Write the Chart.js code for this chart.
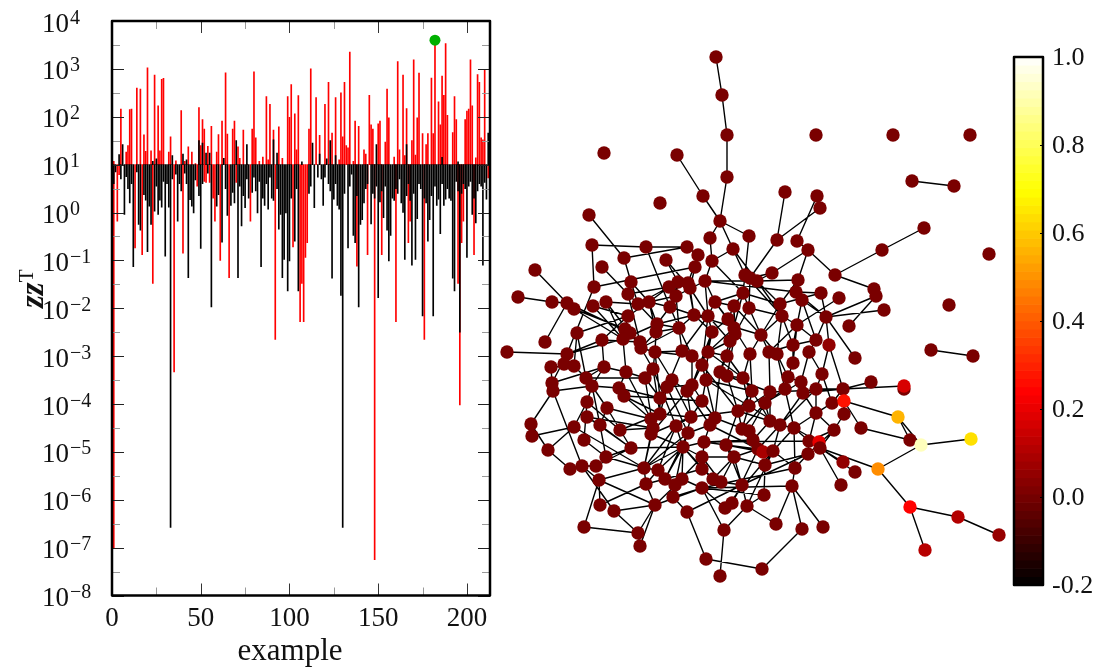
<!DOCTYPE html>
<html><head><meta charset="utf-8">
<script src="https://cdn.jsdelivr.net/npm/chart.js@4/dist/chart.umd.min.js"></script>
<style>
html,body{margin:0;padding:0;background:#fff;width:1096px;height:667px;overflow:hidden}
canvas{position:absolute;top:0}
</style></head><body>
<canvas id="bars" style="left:0" width="500" height="667"></canvas>
<canvas id="net" style="left:495px" width="515" height="667"></canvas>
<canvas id="cbar" style="left:1000px" width="96" height="667"></canvas>
<script>
// ---- left panel: [example, log10(zz^T)]
const redBars=[[0,3.53],[1,1.07],[5,2.16],[8,1.26],[9,1.4],[10,2.15],[11,2.16],[14,2.6],[16,2.58],[18,1.62],[19,1.28],[20,3.02],[22,1.29],[24,2.87],[26,2.23],[27,1.29],[28,2.78],[29,2.8],[32,1.26],[33,1.58],[36,1.08],[39,2.13],[41,1.07],[43,1.37],[45,1.26],[47,1.02],[49,2.19],[50,1.4],[51,1.94],[52,1.74],[54,1.38],[56,1.8],[59,1.26],[60,1.63],[62,1.91],[64,2.92],[65,1.64],[68,1.74],[69,1.91],[71,1.37],[72,1.13],[74,1.72],[76,1.01],[79,1.74],[80,2.94],[81,1.56],[83,1.07],[85,1.16],[87,2.42],[88,1.1],[89,2.26],[91,1.72],[94,1.79],[96,1.13],[99,2.42],[100,1.99],[101,2.67],[103,2.06],[104,1.31],[105,2.44],
[111,1.74],[112,3.0],[115,2.4],[117,1.61],[120,2.26],[122,2.72],[124,1.66],[126,2.4],[128,1.1],[129,2.5],[130,1.58],[131,2.72],[132,1.4],[133,1.35],[134,3.35],[136,1.07],[137,1.91],[139,1.8],[142,1.31],[143,1.22],[145,2.45],[146,1.83],[147,1.74],[150,1.85],[151,1.91],[154,1.47],[155,2.58],[156,1.98],[159,1.16],[161,3.15],[162,1.31],[164,2.87],[165,1.19],[166,2.17],[169,1.5],[170,3.19],[171,1.2],[172,1.98],[173,2.91],[175,1.65],[177,1.42],[178,1.65],[180,2.81],[181,1.65],[182,3.53],[184,2.31],[185,1.83],[186,2.85],[187,2.45],[188,3.53],[189,2.03],[192,1.67],[193,2.42],[194,1.94],[199,1.94],[200,2.12],[201,2.16],[202,3.19],[203,2.23],[205,1.14],[206,2.88],[207,2.72],[208,1.56],[209,1.52],[210,2.98],
[1,-7],[3,-0.18],[4,0.79],[13,-0.74],[17,-0.88],[23,-1.48],[35,-3.33],[40,-0.85],[48,0.55],[52,0.65],[53,0.63],[55,0.63],[57,0.3],[58,-0.18],[61,-1],[66,-1.36],[70,0.63],[78,-0.18],[92,-2.65],[102,-0.72],[106,-2.28],[107,-1.48],[108,-2.28],[109,-0.94],[110,-0.63],[138,-1.12],[144,-0.88],[148,-7.25],[152,-0.88],[160,-2.28],[167,-0.63],[168,-0.18],[176,-2.65],[195,-1.48],[196,-4.02],[197,-0.63],[198,-0.18],[204,-0.88],[212,0.72]];
const blackBars=[[4,1.21],[6,1.42],[23,1.07],[25,1.12],[34,1.19],[40,1.22],[42,1.1],[49,1.5],[51,1.45],[53,1.24],[55,1.24],[63,1.13],[70,1.5],[76,1.42],[91,1.52],[93,1.24],[107,1.06],[113,1.45],[117,1.22],[121,1.12],[123,1.5],[126,1.19],[149,1.42],[166,1.42],[186,1.15],[195,1.06],[212,1.66],
[1,0.6],[2,0.85],[7,-0.04],[10,0.2],[12,-1.13],[14,0.85],[15,-0.25],[16,-0.37],[18,0.37],[19,0.26],[20,-0.82],[21,0.13],[22,-0.25],[24,0.03],[26,-0.04],[27,0.26],[28,0.11],[30,-0.91],[31,0.6],[32,0.11],[33,-6.58],[36,0.8],[37,-0.18],[38,0.6],[41,0.82],[43,-1.36],[44,0.27],[45,0.13],[46,-0.01],[47,0.68],[50,-0.75],[54,0.82],[56,-1.97],[59,0.13],[60,0.37],[62,-0.62],[65,-0.06],[67,0.15],[68,0.42],[69,0.2],[71,-1.36],[73,-0.28],[75,0.1],[77,0.3],[79,0.42],[80,0.74],[82,-0.01],[84,-1.13],[85,0.3],[86,0.15],[87,0.6],[88,0.07],[89,0.74],[90,0.3],[94,-0.35],[95,-0.04],[96,-1.36],[97,-0.98],[98,-0.01],[99,-1.64],[100,-1.01],[101,0.3],[103,-0.6],[104,0.5],[105,-1.64],[111,0.4],[114,0.1],[116,0.74],[119,0.15],[120,0.74],[122,0.6],[124,-1.37],[125,0.28],[127,0.15],[128,0.07],[129,-1.73],[130,-6.58],[131,0.4],[133,-0.74],[135,0.8],[136,-0.48],[137,-0.63],[139,-1.97],[140,-0.25],[141,-0.15],[146,-0.24],[147,0.4],[150,-1.78],[151,0.22],[153,-0.11],[154,0.55],[155,-0.37],[156,-1.01],[157,-0.48],[158,0.3],[164,0],[165,-0.98],[169,-1.1],[171,-0.98],[172,-0.13],[173,0.6],[175,-2.16],[177,0.2],[178,-0.6],[179,-0.15],[181,-2.16],[183,0.15],[184,0.28],[185,-0.44],[188,0.28],[190,0.3],[191,0.25],[192,-1.37],[193,-1.64],[196,-2.5],[200,-0.94],[202,0.65],[203,-0.04],[205,-0.22],[207,0.6],[209,-1.1],[210,0.63],[211,0.28],
[5,0.7],[8,0.75],[9,0.5],[11,0.6],[25,0.55],[29,0.65],[34,0.7],[39,0.45],[42,0.6],[49,0.35],[51,0.6],[64,0.5],[72,0.55],[74,0.35],[76,0.7],[81,0.45],[83,0.65],[91,0.25],[93,0.5],[112,0.55],[118,0.7],[123,0.45],[126,0.6],[134,0.55],[138,0.35],[142,0.2],[143,0.5],[144,0.6],[148,0.3],[149,0.55],[152,0.45],[159,0.25],[160,0.5],[161,0.4],[162,0.7],[163,0.2],[166,0.35],[167,0.6],[168,0.25],[170,0.4],[174,0.5],[176,0.3],[180,0.35],[182,0.55],[186,0.6],[187,0.15],[189,0.5],[194,0.65],[195,0.45],[197,0.4],[198,0.6],[199,0.5],[201,0.55],[204,0.3],[206,0.45],[208,0.55]];
const greenPoint=[182,3980];
const barBaseline=10;
const yTickExponents=[4,3,2,1,0,-1,-2,-3,-4,-5,-6,-7,-8];
const xMajorTicks=[0,50,100,150,200];
const xMinorTicks=[25,75,125,175];
// ---- right panel: node layout, node colour values, edges
const nodeX=[716,722,727,816,893,970,604,677,727,912,
954,785,817,703,660,820,589,924,720,749,
710,777,797,592,646,687,733,808,882,989,
624,666,698,712,602,695,535,772,835,745,
750,757,631,678,688,705,798,594,669,690,
874,876,628,676,796,821,743,518,839,802,
552,567,606,649,638,715,949,574,593,670,
780,734,749,884,694,628,708,782,826,728,
657,797,849,625,679,734,656,577,630,712,
735,761,623,602,545,640,730,816,641,829,
793,931,507,655,682,708,769,777,809,973,
567,692,727,750,855,564,574,551,604,653,
702,793,626,720,822,727,586,645,672,743,
788,706,801,871,552,553,592,619,667,692,
687,752,770,785,803,816,843,904,904,624,
660,587,832,844,749,765,702,607,738,816,
844,898,660,651,691,587,715,770,531,574,
600,676,653,710,780,794,834,861,742,749,
620,532,651,688,584,704,726,753,809,819,
910,921,971,683,631,548,758,763,773,820,
808,606,702,734,843,644,658,582,596,570,
702,765,795,878,855,682,665,675,599,646,
702,713,721,742,792,841,764,673,655,600,
732,725,747,614,687,910,958,776,802,823,
584,724,638,999,640,925,706,762,720];
const nodeY=[57,95,135,135,135,135,153,155,177,181,
186,192,196,196,203,208,215,228,221,236,
238,240,241,245,247,247,249,250,250,254,
258,260,255,261,267,267,270,273,275,275,
278,281,282,282,283,281,280,287,287,288,
289,296,294,296,292,293,293,297,298,300,
302,303,302,302,304,302,305,309,306,307,
304,306,308,310,315,316,316,316,317,319,
324,325,326,329,328,328,332,333,333,332,
334,335,339,340,342,342,341,340,348,345,
345,350,352,352,351,352,352,354,352,356,
354,356,356,354,358,364,366,367,367,369,
365,363,372,372,374,376,378,378,380,378,
377,380,382,382,383,391,386,388,387,385,
391,391,392,389,393,389,389,389,386,396,
398,402,403,401,406,403,401,408,411,413,
414,417,414,419,417,417,418,421,424,427,
425,426,428,425,425,428,430,428,429,431,
430,436,434,433,440,442,445,440,441,442,
440,445,439,447,448,450,449,452,451,448,
454,457,457,457,462,468,470,466,466,469,
469,465,468,469,472,479,479,485,480,484,
488,479,482,485,486,485,495,497,505,505,
503,508,506,511,512,507,517,524,529,527,
527,530,533,535,546,550,559,569,576];
const baseNodeValue=0.01;
const brightNodes={99:0.05,148:0.17,153:0.27,161:0.56,189:0.2,191:0.92,192:0.64,197:0.09,204:0.05,213:0.49,235:0.24,236:0.107,243:0.058,245:0.115};
const edges=[[0,1],[1,2],[2,8],[8,18],[7,13],[13,18],[18,19],[18,20],[18,26],[18,39],[20,33],[26,33],[26,41],[19,39],[11,21],[15,21],[12,22],[21,40],[22,27],[27,46],[27,38],[27,37],[28,38],[28,17],[38,50],[51,82],[73,78],[58,81],[51,78],[55,78],[78,114],[78,99],[97,78],[100,97],[33,56],[33,45],[37,40],
[16,30],[23,24],[24,25],[30,25],[23,47],[30,42],[24,69],[31,49],[34,52],[47,35],[36,61],[57,60],[60,61],[47,110],[61,94],[102,110],[67,92],[67,83],[61,88],[68,92],[62,64],[64,63],[62,88],[87,75],[87,116],[87,126],[110,93],[110,92],[93,75],[68,75],
[135,168],[135,207],[135,136],[181,169],[168,195],[195,169],[195,209],[209,207],[207,208],[169,151],[169,205],[170,201],[151,184],[165,170],[208,194],[194,193],[201,205],[218,205],[218,228],[218,240],[229,219],[207,218],[207,233],[233,228],[240,242],[233,242],[242,228],[244,242],[244,228],[234,246],[227,220],[180,162],[157,170],[149,163],[136,151],[136,157],[136,170],[184,201],[205,206],[206,193],[216,193],[215,193],[217,193],[205,193],[193,210],[193,185],[193,164],[205,172],[216,183],
[241,248],[246,247],[247,238],[241,232],[241,220],[232,237],[237,224],[224,238],[239,224],[226,232],[224,212],[223,232],[223,230],[225,199],[213,199],[213,191],[213,235],[177,190],[153,161],[153,177],[153,146],[146,148],[145,146],[152,146],[159,152],[176,160],[153,160],[199,204],[199,214],[188,199],[161,191],[191,192],[235,236],[236,243],[235,245],[190,161],[9,10],[101,109],
[42,63],[42,52],[52,64],[52,95],[63,80],[63,69],[64,80],[69,74],[69,84],[48,63],[48,64],[43,69],[44,74],[49,76],[53,69],[53,84],[53,63],[45,76],[45,65],[65,79],[65,85],[71,79],[71,90],[72,91],[72,77],[56,72],[56,71],[56,96],[39,56],[40,72],[41,77],[41,70],[37,41],[46,41],[46,54],[54,59],[54,55],[55,70],[70,77],[77,81],[77,91],[81,100],[81,97],[59,78],[59,97],[100,106],[100,121],[121,130],[130,143],[143,155],[91,106],[91,113],[91,107],[85,96],[90,112],[96,105],[89,105],[89,120],[74,84],[74,76],[76,89],[79,85],[84,104],[104,111],[111,120],[104,138],[103,119],[103,128],[86,98],[80,86],[86,103],[95,98],[98,119],[75,83],[83,92],[88,92],[88,95],[92,122],[93,118],[118,126],[118,136],[122,137],[137,149],[122,127],[127,150],[127,119],[128,138],[138,150],[138,162],[139,140],[139,156],[140,164],[150,162],[162,163],[163,172],[172,182],[182,193],[183,193],[171,183],[171,164],[164,156],[156,166],[166,173],[173,185],[185,186],[186,203],[203,202],[202,210],[210,221],[221,222],[222,223],[223,230],[230,231],[231,220],[220,215],[215,217],[217,216],[216,206],[206,171],[205,182],[219,205],[219,216],[228,219],[227,217],[227,234],[234,223],[211,226],[211,203],[211,198],[198,196],[197,187],[187,179],[179,178],[178,158],[158,154],[154,141],[141,129],[129,125],[125,123],[123,112],[112,105],[131,120],[131,156],[131,166],[142,155],[142,167],[155,167],[167,174],[174,175],[175,188],[175,143],[144,159],[144,132],[145,159],[145,124],[124,108],[108,97],[108,132],[132,130],[146,133],[99,124],[99,146],[124,152],[159,176],[176,199],[188,200],[200,212],[212,198],[212,224],[189,175],[196,203],[196,178],[197,186],[198,174],[203,222],[186,223],[202,222],[185,210],[193,202],[193,221],[193,171],[183,173],[164,158],[158,186],[166,179],[173,196],[154,178],[155,179],[167,187],[174,196],[175,198],[141,167],[129,154],[125,158],[123,166],[113,141],[113,129],[106,142],[107,143],[107,130],[112,129],[120,139],[105,131],[111,139],[138,139],[128,140],[103,150],[119,162],
[61,67],[110,115],[115,116],[116,117],[117,134],[134,135],[134,118],[110,134],[116,126],[126,136],[126,127],[118,122],[136,137],[93,95],[88,98],[98,103],[43,53],[44,49],[35,49],[32,44],[25,32],[31,43],[65,71],[71,85],[79,89],[90,96],[80,84],[84,86],[69,80],[72,90],[70,91],[77,100],[59,81],[46,70],[48,52],[42,64],[63,86],[74,89],[65,76],
[45,41],[45,54],[65,56],[56,70],[39,77],[71,91],[54,78],[77,107],[81,121],[81,106],[91,113],[76,96],[79,113],[85,105],[74,91],
[131,141],[142,146],[185,188],[185,187],[220,226],[220,224],[220,212],[186,198],[198,212],[211,200],[223,200],[203,223],[221,203],[231,198],[230,196],[226,211],[232,198],[175,188],[175,212],[159,188],[200,176],[188,176],[154,174],[158,167],[155,178],[142,154],[141,158],[132,155],[144,174],[145,174],[152,175],[146,144],
[140,182],[164,182],[171,205],[171,206],[183,205],[162,164],[150,156],[149,150],[170,194],[165,194],[194,201],[219,228],[219,206],[228,215],[228,220],[229,218],[234,227],[227,215],[217,202],[216,210],
[80,74],[63,75],[75,83],[52,48],[62,92],[80,92],[84,98],[104,103],[111,103],[104,76],[53,45],[49,74],[122,163],[137,150],[149,162],[157,163],[165,172],[157,194],[151,180],[180,172],[127,172],[119,171],[128,164],[138,183],[140,173],[120,158],[131,154],[112,141],[125,142],[105,129],[90,125],[96,123],[89,139],[76,120],[84,111]];
const colorTicks=[-0.2,0,0.2,0.4,0.6,0.8,1.0];
const colorLevels=64, colorMin=-0.2, colorMax=1.0;

function hot(v){
  const t=Math.max(0,Math.min(1,(v-colorMin)/(colorMax-colorMin)));
  const r=Math.min(1,t/0.365),g=Math.max(0,Math.min(1,(t-0.365)/0.381)),b=Math.max(0,(t-0.746)/0.254);
  return `rgb(${Math.round(r*255)},${Math.round(g*255)},${Math.round(b*255)})`;
}
const SERIF='"Liberation Serif","DejaVu Serif",serif';
Chart.defaults.animation=false;
Chart.defaults.responsive=false;
Chart.defaults.plugins.legend.display=false;
Chart.defaults.plugins.tooltip.enabled=false;

const framePlugin={id:'frame',afterDatasetsDraw(c){
  const {ctx,chartArea:a,scales:{x,y}}=c;
  ctx.save();
  const tick=(x1,y1,x2,y2,col)=>{ctx.strokeStyle=col;ctx.lineWidth=1;ctx.beginPath();ctx.moveTo(x1,y1);ctx.lineTo(x2,y2);ctx.stroke();};
  for(const e of yTickExponents){
    const p=Math.round(y.getPixelForValue(10**e))+0.5;
    tick(a.left,p,a.left+12,p,'#222');tick(a.right,p,a.right-12,p,'#222');
    if(e>-8){const q=Math.round(y.getPixelForValue(10**(e-0.5)))+0.5;
      tick(a.left,q,a.left+8,q,'#999');tick(a.right,q,a.right-8,q,'#999');}
  }
  for(const v of xMajorTicks){const p=Math.round(x.getPixelForValue(v))+0.5;
    tick(p,a.top,p,a.top+12,'#333');tick(p,a.bottom,p,a.bottom-12,'#333');}
  for(const v of xMinorTicks){const p=Math.round(x.getPixelForValue(v))+0.5;
    tick(p,a.top,p,a.top+8,'#999');tick(p,a.bottom,p,a.bottom-8,'#999');}
  ctx.strokeStyle='#000';ctx.lineWidth=2.5;ctx.lineJoin='round';
  ctx.strokeRect(a.left,a.top,a.right-a.left,a.bottom-a.top);
  // exponents of the y tick labels
  ctx.fillStyle='#111';ctx.textAlign='left';ctx.textBaseline='alphabetic';
  ctx.font='20px '+SERIF;
  for(const e of yTickExponents){
    const p=y.getPixelForValue(10**e);
    ctx.fillText(String(e).replace('-','\u2212'),70,p+2.5);
  }
  // x axis title
  ctx.textAlign='center';ctx.font='31px '+SERIF;
  ctx.fillText('example',290,660);
  ctx.textAlign='left';
  // y axis label, rotated, with its superscript
  ctx.save();ctx.translate(43,308);ctx.rotate(-Math.PI/2);
  ctx.font='italic bold 33px '+SERIF;ctx.fillText('zz',0,0);
  const w=ctx.measureText('zz').width;
  ctx.font='21px '+SERIF;ctx.fillText('T',w,-10);
  ctx.restore();
  ctx.restore();
}};
const toBar=([e,v])=>({x:e,y:[barBaseline,10**v]});
new Chart(document.getElementById('bars'),{
  type:'bar',
  data:{datasets:[
    {type:'scatter',data:[{x:greenPoint[0],y:greenPoint[1]}],backgroundColor:'#00b000',borderWidth:0,pointRadius:5.5,order:0},
    {data:blackBars.map(toBar),backgroundColor:'#000',barThickness:1,grouped:false,order:1},
    {data:redBars.map(toBar),backgroundColor:'#ff0000',barThickness:1,grouped:false,order:2}
  ]},
  options:{
    layout:{autoPadding:false,padding:{top:21,right:10,left:0,bottom:0}},
    plugins:{},
    scales:{
      x:{type:'linear',offset:false,min:0,max:213,grid:{display:false,drawTicks:false},border:{display:false},
        afterBuildTicks:s=>{s.ticks=xMajorTicks.map(v=>({value:v}));},
        afterFit:s=>{s.height=71.5;s.paddingLeft=0;s.paddingRight=0;},
        ticks:{color:'#111',font:{family:SERIF,size:27},padding:7,maxRotation:0,autoSkip:false}},
      y:{type:'logarithmic',min:1e-8,max:1e4,grid:{display:false,drawTicks:false},border:{display:false},
        afterBuildTicks:s=>{s.ticks=yTickExponents.map(e=>({value:10**e}));},
        afterFit:s=>{s.width=112;s.paddingTop=0;s.paddingBottom=0;},
        ticks:{color:'#111',font:{family:SERIF,size:27},padding:43,autoSkip:false,labelOffset:3.5,
          callback:()=>'10'}}
    }
  },
  plugins:[framePlugin]
});

new Chart(document.getElementById('net'),{
  type:'scatter',
  data:{datasets:[
    {type:'line',order:2,data:edges.flatMap(([a,b])=>[{x:nodeX[a],y:nodeY[a]},{x:nodeX[b],y:nodeY[b]},{x:NaN,y:NaN}]),
      borderColor:'#000',borderWidth:1.4,pointRadius:0,spanGaps:false,tension:0,fill:false},
    {order:1,data:nodeX.map((x,i)=>({x,y:nodeY[i]})),
      backgroundColor:nodeX.map((_,i)=>hot(brightNodes[i]??baseNodeValue)),pointRadius:6.7,borderWidth:0}
  ]},
  options:{
    layout:{autoPadding:false,padding:0},
    scales:{
      x:{type:'linear',display:false,min:495,max:1010},
      y:{type:'linear',display:false,min:0,max:667,reverse:true}
    }
  }
});

const bandEdges=Array.from({length:colorLevels},(_,i)=>colorMin+i*(colorMax-colorMin)/colorLevels);
const cbFrame={id:'cbFrame',afterDatasetsDraw(c){
  const {ctx,chartArea:a,scales:{y}}=c;
  ctx.save();ctx.strokeStyle='#000';ctx.lineWidth=1;
  for(const v of colorTicks){const p=Math.round(y.getPixelForValue(v))+0.5;
    ctx.beginPath();ctx.moveTo(a.right,p);ctx.lineTo(a.right-3,p);ctx.stroke();}
  ctx.lineWidth=2.5;ctx.lineJoin='round';
  ctx.strokeRect(a.left,a.top,a.right-a.left,a.bottom-a.top);
  ctx.restore();
}};
new Chart(document.getElementById('cbar'),{
  type:'bar',
  data:{datasets:[{data:bandEdges.map(v=>({x:0,y:[v,v+(colorMax-colorMin)/colorLevels]})),
    backgroundColor:bandEdges.map(v=>hot(v+(colorMax-colorMin)/colorLevels/2)),barThickness:29,grouped:false}]},
  options:{
    layout:{autoPadding:false,padding:{left:14,top:57,bottom:82,right:0}},
    scales:{
      x:{type:'linear',offset:false,display:false,min:-1,max:1},
      y:{position:'right',min:colorMin,max:colorMax,grid:{display:false,drawTicks:false},border:{display:false},
        afterBuildTicks:s=>{s.ticks=colorTicks.map(v=>({value:v}));},
        afterFit:s=>{s.width=53;s.paddingTop=0;s.paddingBottom=0;},
        ticks:{color:'#111',font:{family:SERIF,size:26},padding:9,autoSkip:false,labelOffset:1.5,
          callback:v=>v.toFixed(1)}}
    }
  },
  plugins:[cbFrame]
});
</script></body></html>
